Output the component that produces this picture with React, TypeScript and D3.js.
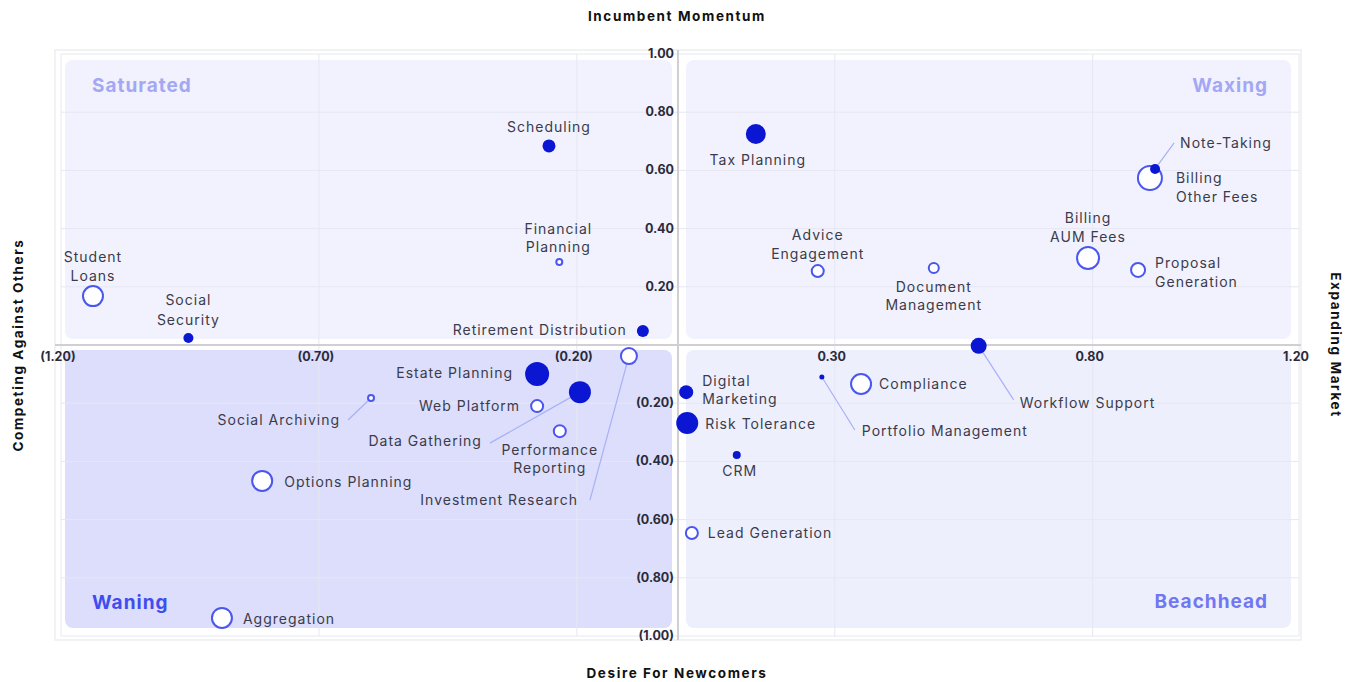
import React from "react";
import * as d3 from "d3";

// ---------- data ----------
const names = [
  "Student Loans", "Social Security", "Scheduling", "Financial Planning", "Retirement Distribution",
  "Tax Planning", "Advice Engagement", "Document Management", "Billing AUM Fees", "Proposal Generation",
  "Billing Other Fees", "Note-Taking", "Workflow Support", "Compliance", "Portfolio Management",
  "Digital Marketing", "Risk Tolerance", "CRM", "Lead Generation", "Estate Planning",
  "Data Gathering", "Web Platform", "Performance Reporting", "Investment Research", "Social Archiving",
  "Options Planning", "Aggregation",
];
const desire = [
  -1.138, -0.953, -0.254, -0.234, -0.072,
  0.147, 0.267, 0.492, 0.791, 0.888,
  0.911, 0.921, 0.579, 0.351, 0.275,
  0.012, 0.014, 0.110, 0.023, -0.277,
  -0.194, -0.277, -0.233, -0.099, -0.599,
  -0.810, -0.888,
];
const momentum = [
  0.168, 0.024, 0.684, 0.285, 0.048,
  0.725, 0.254, 0.265, 0.299, 0.258,
  0.574, 0.605, -0.003, -0.134, -0.110,
  -0.162, -0.268, -0.378, -0.646, -0.100,
  -0.162, -0.210, -0.296, -0.038, -0.182,
  -0.467, -0.938,
];
const sizes = [
  10, 5, 6.5, 3, 6,
  10, 6, 5, 11, 7,
  12, 5, 8, 10, 2.5,
  7, 11, 4, 6, 12,
  11, 6, 6, 8, 3,
  10, 10,
];
const filled = [
  false, true, true, false, true,
  true, false, false, false, false,
  false, true, true, false, true,
  true, true, true, false, true,
  true, false, false, false, false,
  false, false,
];
const xTicks = [-1.2, -0.7, -0.2, 0.3, 0.8, 1.2];
const yTicks = [1, 0.8, 0.6, 0.4, 0.2, -0.2, -0.4, -0.6, -0.8, -1];
const quadrantNames = ["Saturated", "Waxing", "Waning", "Beachhead"];

// ---------- label layout (px offsets from point) ----------
type Lay = { dx: number; dy: number[]; anchor: string; lines: string[]; lead?: [number, number] };
const layout: Lay[] = [
  { dx: 0, dy: [-34, -15], anchor: "middle", lines: ["Student", "Loans"] },
  { dx: 0, dy: [-33, -13], anchor: "middle", lines: ["Social", "Security"] },
  { dx: 0, dy: [-14], anchor: "middle", lines: ["Scheduling"] },
  { dx: -1, dy: [-28, -10], anchor: "middle", lines: ["Financial", "Planning"] },
  { dx: -16, dy: [4], anchor: "end", lines: ["Retirement Distribution"] },
  { dx: 2, dy: [31], anchor: "middle", lines: ["Tax Planning"] },
  { dx: 0, dy: [-31, -12], anchor: "middle", lines: ["Advice", "Engagement"] },
  { dx: 0, dy: [24, 42], anchor: "middle", lines: ["Document", "Management"] },
  { dx: 0, dy: [-35, -16], anchor: "middle", lines: ["Billing", "AUM Fees"] },
  { dx: 17, dy: [-2, 17], anchor: "start", lines: ["Proposal", "Generation"] },
  { dx: 26, dy: [5, 24], anchor: "start", lines: ["Billing", "Other Fees"] },
  { dx: 25, dy: [-21], anchor: "start", lines: ["Note-Taking"], lead: [19, -26] },
  { dx: 41, dy: [62], anchor: "start", lines: ["Workflow Support"], lead: [35, 54] },
  { dx: 18, dy: [5], anchor: "start", lines: ["Compliance"] },
  { dx: 40, dy: [59], anchor: "start", lines: ["Portfolio Management"], lead: [33, 53] },
  { dx: 16, dy: [-6, 12], anchor: "start", lines: ["Digital", "Marketing"] },
  { dx: 18, dy: [6], anchor: "start", lines: ["Risk Tolerance"] },
  { dx: 3, dy: [21], anchor: "middle", lines: ["CRM"] },
  { dx: 16, dy: [5], anchor: "start", lines: ["Lead Generation"] },
  { dx: -24, dy: [4], anchor: "end", lines: ["Estate Planning"] },
  { dx: -98, dy: [54], anchor: "end", lines: ["Data Gathering"], lead: [-90, 51] },
  { dx: -17, dy: [5], anchor: "end", lines: ["Web Platform"] },
  { dx: -10, dy: [24, 42], anchor: "middle", lines: ["Performance", "Reporting"] },
  { dx: -51, dy: [149], anchor: "end", lines: ["Investment Research"], lead: [-39, 144] },
  { dx: -31, dy: [27], anchor: "end", lines: ["Social Archiving"], lead: [-23, 22] },
  { dx: 22, dy: [6], anchor: "start", lines: ["Options Planning"] },
  { dx: 21, dy: [6], anchor: "start", lines: ["Aggregation"] },
];

const W = 1345;
const H = 682;
const FONT = "Inter, 'Noto Sans', sans-serif";

export default function App() {
  const x = d3.scaleLinear().domain([-1.2, 1.2]).range([61, 1299]);
  const y = d3.scaleLinear().domain([-1, 1]).range([636, 54]);
  const r = d3.scaleLinear().domain([0, 12]).range([0, 12]);
  const fmt = (v: number) => (v < 0 ? `(${d3.format(".2f")(-v)})` : d3.format(".2f")(v));

  const x0 = x(0);
  const y0 = y(0);
  const left = x(-1.2);
  const right = x(1.2);
  const top = y(1);
  const bottom = y(-1);

  const panels = [
    { x1: left + 4, x2: x0 - 8, y1: top + 6, y2: y0 - 6, fill: "#f1f2fd" },
    { x1: x0 + 6, x2: right - 8, y1: top + 6, y2: y0 - 6, fill: "#f1f2fd" },
    { x1: left + 4, x2: x0 - 8, y1: y0 + 5, y2: bottom - 8, fill: "#dcdefb" },
    { x1: x0 + 6, x2: right - 8, y1: y0 + 5, y2: bottom - 8, fill: "#eeeffd" },
  ];
  const qLabels = [
    { t: quadrantNames[0], x: left + 31, y: 92, anchor: "start", fill: "#a3a7f4" },
    { t: quadrantNames[1], x: right - 31, y: 92, anchor: "end", fill: "#a3a7f4" },
    { t: quadrantNames[2], x: left + 31, y: 609, anchor: "start", fill: "#3f4cef" },
    { t: quadrantNames[3], x: right - 31, y: 608, anchor: "end", fill: "#7077f3" },
  ];
  const titleProps = { fontSize: 13.5, fontWeight: 700, fill: "#111", letterSpacing: 1.6, textAnchor: "middle" as const };

  return (
    <svg width={W} height={H} style={{ position: "absolute", left: 0, top: 0, background: "#fff" }} fontFamily={FONT}>
      <rect x={left - 6} y={top - 4} width={right - left + 8} height={bottom - top + 8} fill="none" stroke="#eeeeee" strokeWidth={1.5} />
      {panels.map((p, i) => (
        <rect key={i} x={p.x1} y={p.y1} width={p.x2 - p.x1} height={p.y2 - p.y1} rx={8} fill={p.fill} />
      ))}
      {/* grid */}
      {xTicks.map((t) => (
        <line key={"gx" + t} x1={x(t)} x2={x(t)} y1={top} y2={bottom} stroke="#e6e7f3" strokeWidth={1} />
      ))}
      {yTicks.map((t) => (
        <line key={"gy" + t} x1={left} x2={right} y1={y(t)} y2={y(t)} stroke="#e6e7f3" strokeWidth={1} />
      ))}
      {/* axes */}
      <line x1={left - 6} x2={right + 2} y1={y0} y2={y0} stroke="#cfcfd4" strokeWidth={2} />
      <line x1={x0 - 2} x2={x0 - 2} y1={top - 4} y2={bottom + 4} stroke="#cfcfd4" strokeWidth={2} />
      {xTicks.map((t) => (
        <text key={"tx" + t} x={x(t) - 3} y={y0 + 16} textAnchor="middle" fontSize={12.5} fontWeight={700} fill="#2a2a3a">
          {fmt(t)}
        </text>
      ))}
      {yTicks.map((t) => (
        <text key={"ty" + t} x={x0 - 6} y={y(t) + 4} textAnchor="end" fontSize={12.5} fontWeight={700} fill="#2a2a3a">
          {fmt(t)}
        </text>
      ))}
      {/* quadrant labels */}
      {qLabels.map((q) => (
        <text key={q.t} x={q.x} y={q.y} textAnchor={q.anchor as any} fontSize={19} fontWeight={700} letterSpacing={1} fill={q.fill}>
          {q.t}
        </text>
      ))}
      {/* axis titles */}
      <text x={677} y={21} {...titleProps}>Incumbent Momentum</text>
      <text x={677} y={678} {...titleProps}>Desire For Newcomers</text>
      <text transform={`translate(23,${y0}) rotate(-90)`} {...titleProps}>Competing Against Others</text>
      <text transform={`translate(1331,${y0}) rotate(90)`} {...titleProps}>Expanding Market</text>
      {/* leader lines */}
      {names.map((n, i) => {
        const L = layout[i];
        if (!L.lead) return null;
        return (
          <line key={"l" + n} x1={x(desire[i])} y1={y(momentum[i])} x2={x(desire[i]) + L.lead[0]} y2={y(momentum[i]) + L.lead[1]} stroke="#a9b0f6" strokeWidth={1.2} />
        );
      })}
      {/* bubbles: hollow first, filled on top */}
      {names
        .map((n, i) => i)
        .sort((a, b) => Number(filled[a]) - Number(filled[b]))
        .map((i) => (
          <circle
            key={"c" + names[i]}
            cx={x(desire[i])}
            cy={y(momentum[i])}
            r={r(sizes[i])}
            fill={filled[i] ? "#0b16d2" : "#ffffff"}
            stroke={filled[i] ? "#0b16d2" : "#4b56ee"}
            strokeWidth={filled[i] ? 0 : 2}
          />
        ))}
      {/* labels */}
      {names.map((n, i) => {
        const L = layout[i];
        const px = x(desire[i]) + L.dx;
        const py = y(momentum[i]);
        return (
          <text key={"t" + n} textAnchor={L.anchor as any} fontSize={14} letterSpacing={1} fill="#3b3b4b">
            {L.lines.map((ln, k) => (
              <tspan key={k} x={px} y={py + L.dy[k]}>{ln}</tspan>
            ))}
          </text>
        );
      })}
    </svg>
  );
}
